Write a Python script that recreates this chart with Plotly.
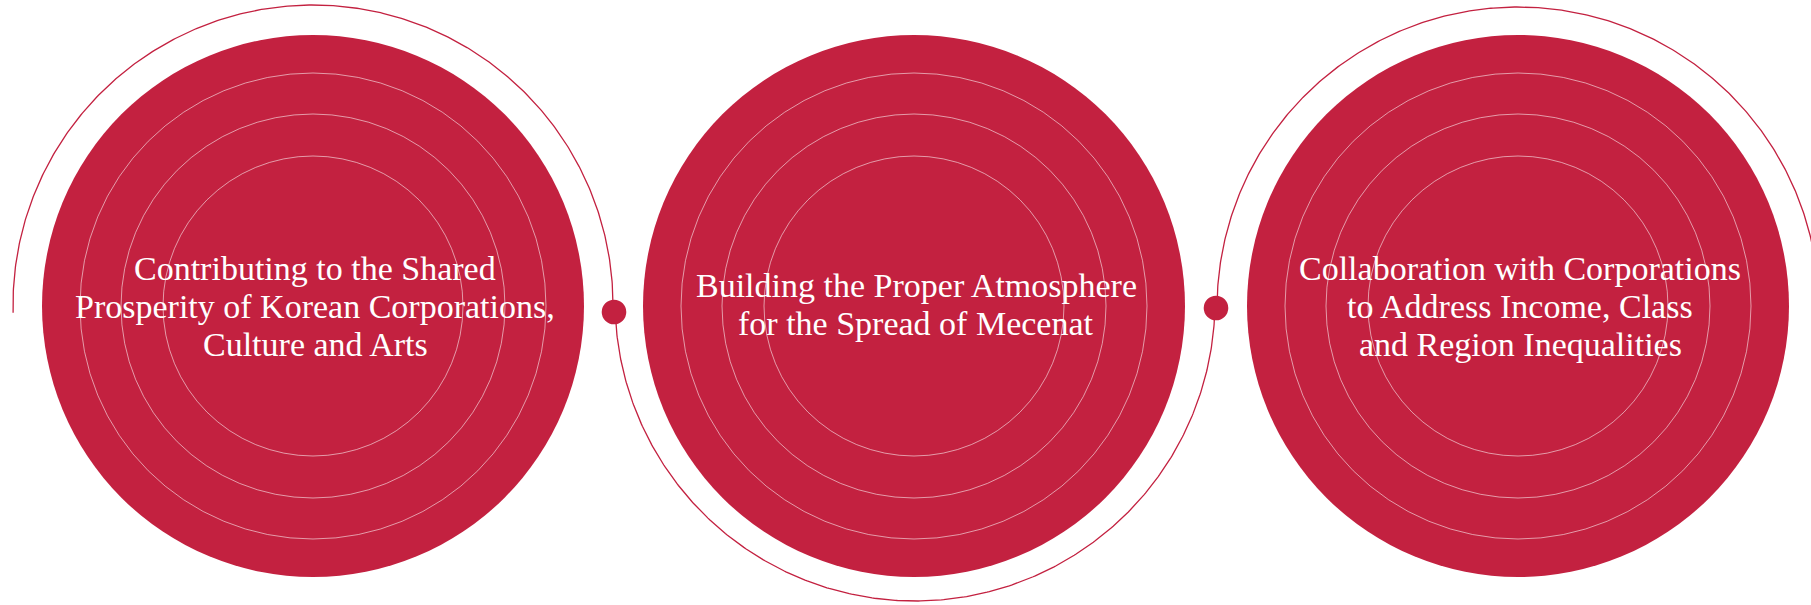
import numpy as np
import plotly.graph_objects as go

# ---- content ----
labels = [
    ["Contributing to the Shared", "Prosperity of Korean Corporations,", "Culture and Arts"],
    ["Building the Proper Atmosphere", "for the Spread of Mecenat"],
    ["Collaboration with Corporations", "to Address Income, Class", "and Region Inequalities"],
]

# ---- geometry (pixel space) ----
W, H = 1811, 605
circle_cx = [313, 914, 1518]
circle_cy = [306, 306, 306]
circle_r = 271
ring_r = [233, 192, 150]

arc_cx = [313, 915, 1518]
arc_cy = [305, 301, 308]
arc_r = [300, 300, 301]
arc_from = [178.5, 177.9, 180.0]   # degrees, screen coords (y down)
arc_to = [361.4, 1.3, 360.0]

dot_x = [614, 1216]
dot_y = [312, 308]
dot_r = 12.3

text_line_y = [[268, 306, 344], [285, 323], [268, 306, 344]]
text_cx = [315, 916, 1520]

CRIMSON = "#C32140"
RING = "rgba(255,255,255,0.55)"

fig = go.Figure()
shapes = []

for cx, cy in zip(circle_cx, circle_cy):
    shapes.append(dict(type="circle", xref="x", yref="y", x0=cx - circle_r, x1=cx + circle_r,
                       y0=cy - circle_r, y1=cy + circle_r, fillcolor=CRIMSON,
                       line=dict(width=0), layer="below"))
    for rr in ring_r:
        shapes.append(dict(type="circle", xref="x", yref="y", x0=cx - rr, x1=cx + rr,
                           y0=cy - rr, y1=cy + rr, fillcolor="rgba(0,0,0,0)",
                           line=dict(color=RING, width=1), layer="below"))

for cx, cy, r, a0, a1 in zip(arc_cx, arc_cy, arc_r, arc_from, arc_to):
    t = np.radians(np.linspace(a0, a1, 400))
    fig.add_trace(go.Scatter(x=cx + r * np.cos(t), y=cy + r * np.sin(t), mode="lines",
                             line=dict(color=CRIMSON, width=1.3), hoverinfo="skip",
                             showlegend=False))

for x, y in zip(dot_x, dot_y):
    shapes.append(dict(type="circle", xref="x", yref="y", x0=x - dot_r, x1=x + dot_r,
                       y0=y - dot_r, y1=y + dot_r, fillcolor=CRIMSON, line=dict(width=0),
                       layer="above"))

annotations = []
for lines, ys, cx in zip(labels, text_line_y, text_cx):
    for line, y in zip(lines, ys):
        annotations.append(dict(x=cx, y=y, xref="x", yref="y", text=line, showarrow=False,
                                xanchor="center", yanchor="middle",
                                font=dict(family="Liberation Serif", size=34, color="white")))

fig.update_layout(
    width=W, height=H, margin=dict(l=0, r=0, t=0, b=0),
    paper_bgcolor="white", plot_bgcolor="white",
    shapes=shapes, annotations=annotations, showlegend=False,
    xaxis=dict(range=[0, W], visible=False, fixedrange=True),
    yaxis=dict(range=[H, 0], visible=False, fixedrange=True),
)

fig.write_html("out.html", config={"displayModeBar": False},
               post_script="document.body.style.margin='0';")
